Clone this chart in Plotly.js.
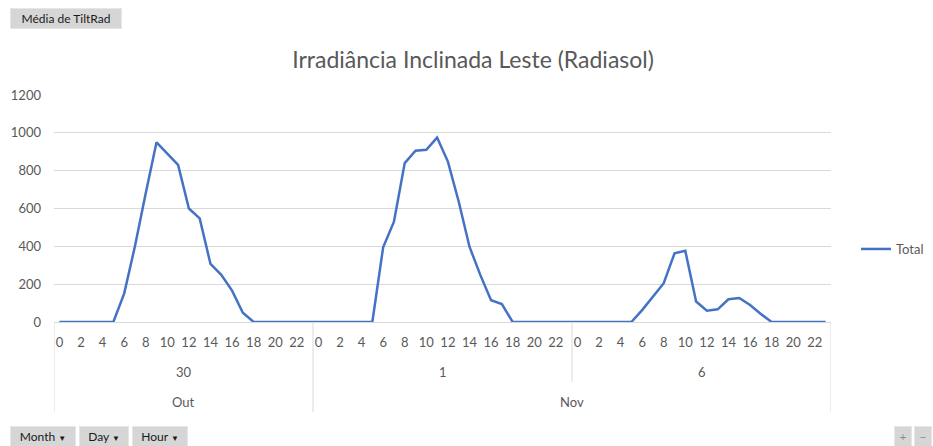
<!DOCTYPE html>
<html><head><meta charset="utf-8">
<script src="https://cdn.plot.ly/plotly-3.0.1.min.js"></script>
<style>html,body{margin:0;padding:0;background:#fff;}#chart{width:933px;height:446px;}</style>
</head><body><div id="chart"></div>
<script>
// ---- data ----
var months = ['Out', 'Nov', 'Nov'];
var days = ['30', '1', '6'];
var hours = [0,1,2,3,4,5,6,7,8,9,10,11,12,13,14,15,16,17,18,19,20,21,22,23];
var day30 = [0,0,0,0,0,0,150,400,680,950,890,830,600,548,307,249,166,49,0,0,0,0,0,0];
var day1  = [0,0,0,0,0,0,395,530,840,905,910,975,848,637,398,249,115,95,0,0,0,0,0,0];
var day6  = [0,0,0,0,0,0,63,134,205,363,376,108,60,67,120,127,90,42,0,0,0,0,0,0];
var seriesName = 'Total';
var chartTitle = 'Irradiância Inclinada Leste (Radiasol)';
var yTicks = [0,200,400,600,800,1000,1200];

// ---- build flat series ----
var perDay = [day30, day1, day6];
var xs = [], ys = [], tickvals = [], ticktext = [];
perDay.forEach(function(vals, d){
  hours.forEach(function(h, i){
    var idx = d * hours.length + i;
    xs.push(idx); ys.push(vals[i]);
    if (h % 2 === 0) { tickvals.push(idx); ticktext.push(String(h)); }
  });
});
var n = hours.length;
var FONT = 'Lato, "Open Sans", "Liberation Sans", sans-serif';
var GRAY = '#595959';

var PH = 227; // plot height px
function py(dy){ return -dy / PH; }

var shapes = [], annotations = [];
for (var d = 0; d <= days.length; d++) {
  var xb = d * n - 0.5;
  var monthEdge = (d === 0 || d === days.length || months[d] !== months[d-1]);
  shapes.push({type:'line', xref:'x', yref:'paper', x0:xb, x1:xb, y0:0, y1: monthEdge ? py(90) : py(60),
    line:{color:'#d9d9d9', width:1}});
}
days.forEach(function(dl, d){
  annotations.push({xref:'x', yref:'paper', x: d*n + (n-1)/2, y: py(50), text: dl, showarrow:false,
    font:{family:FONT, size:13, color:GRAY}, yanchor:'middle'});
});
var start = 0;
for (var d = 1; d <= months.length; d++) {
  if (d === months.length || months[d] !== months[start]) {
    annotations.push({xref:'x', yref:'paper', x: (start*n + d*n - 1)/2, y: py(80), text: months[start], showarrow:false,
      font:{family:FONT, size:13, color:GRAY}, yanchor:'middle'});
    start = d;
  }
}
function btn(cx, cy, w, text, color){
  annotations.push({xref:'paper', yref:'paper', x:(cx-54)/777, y:(322-cy)/PH, text:text, showarrow:false,
    xanchor:'center', yanchor:'middle', width:w, height:17, borderpad:1, borderwidth:1,
    bgcolor:'#d6d6d6', bordercolor:'#e6e6e6', font:{family:FONT, size:12, color:color||'#1a1a1a'}});
}
var arrow = ' <span style="font-size:8px">▼</span>';
btn(66, 18, 108, 'Média de TiltRad');
btn(43, 436, 62, 'Month' + arrow);
btn(104, 436, 46, 'Day' + arrow);
btn(160, 436, 52, 'Hour' + arrow);
btn(903, 436, 14, '+', '#8c8c8c');
btn(923, 436, 14, '−', '#8c8c8c');

var trace = {x: xs, y: ys, type:'scatter', mode:'lines', name: seriesName,
  line:{color:'#4472C4', width:2.5}};

var layout = {
  width:933, height:446,
  margin:{l:54, r:102, t:95, b:124},
  paper_bgcolor:'#ffffff', plot_bgcolor:'#ffffff',
  title:{text: chartTitle, x:0.507, xref:'container', xanchor:'center', y:1-60/446, yref:'container', yanchor:'middle',
    font:{family:FONT, size:23, color:GRAY}},
  xaxis:{range:[-0.5, xs.length-0.5], tickmode:'array', tickvals:tickvals, ticktext:ticktext,
    showgrid:false, zeroline:false, showline:true, linecolor:'#d9d9d9', linewidth:1, ticks:'', ticklabelstandoff:8,
    tickfont:{family:FONT, size:13, color:GRAY}, fixedrange:true},
  yaxis:{range:[0,1200], tickmode:'array', tickvals:yTicks, showgrid:true, gridcolor:'#d9d9d9', gridwidth:1,
    zeroline:false, showline:false, ticks:'', ticklabelstandoff:12,
    tickfont:{family:FONT, size:13, color:GRAY}, fixedrange:true},
  showlegend:true,
  legend:{x:856/933, xref:'container', xanchor:'left', y:1-249/446, yref:'container', yanchor:'middle', bgcolor:'rgba(0,0,0,0)',
    font:{family:FONT, size:13, color:GRAY}},
  shapes:shapes, annotations:annotations
};
Plotly.newPlot('chart', [trace], layout, {displayModeBar:false, staticPlot:true});
</script></body></html>
